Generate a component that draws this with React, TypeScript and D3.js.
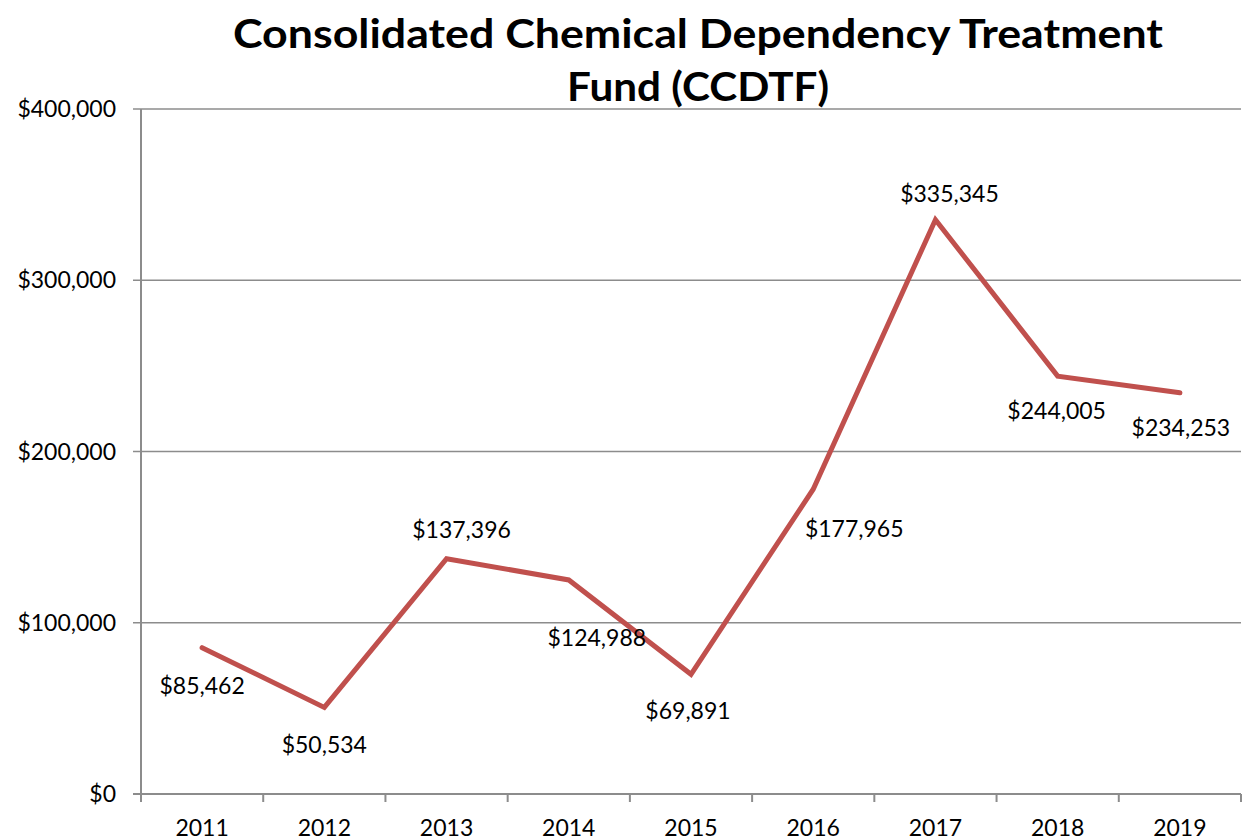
import React from "react";
import * as d3 from "d3";

const years = ["2011", "2012", "2013", "2014", "2015", "2016", "2017", "2018", "2019"];
const values = [85462, 50534, 137396, 124988, 69891, 177965, 335345, 244005, 234253];
const yTicks = [0, 100000, 200000, 300000, 400000];
// label offsets relative to each point (dx, dy), matching the manual placement in the reference
const labelDx = [0, 0, 15, 28, -3, 41, 14, -1, 1];
const labelDy = [38, 37, -29, 58, 37, 40, -26, 35, 35];

const W = 1248;
const H = 840;
const margin = { left: 141, right: 7, top: 109, bottom: 46 };
const FONT = "Lato, 'Open Sans', sans-serif";

export default function App() {
  const x = d3
    .scaleBand<string>()
    .domain(years)
    .range([margin.left, W - margin.right])
    .paddingInner(0)
    .paddingOuter(0);
  const y = d3.scaleLinear().domain([0, 400000]).range([H - margin.bottom, margin.top]);
  const cx = (d: string) => (x(d) as number) + x.bandwidth() / 2;
  const line = d3
    .line<number>()
    .x((_, i) => cx(years[i]))
    .y((d) => y(d));
  const fmt = d3.format("$,");
  const boundaries = years.map((d) => x(d) as number).concat([W - margin.right]);
  const y0 = y(0);

  return (
    <svg
      width={W}
      height={H}
      style={{ position: "absolute", left: 0, top: 0, background: "#fff" }}
      fontFamily={FONT}
    >
      {yTicks.map((t) => (
        <line
          key={"g" + t}
          x1={margin.left - 8}
          x2={W - margin.right}
          y1={y(t)}
          y2={y(t)}
          stroke="#8c8c8c"
          strokeWidth={1.5}
        />
      ))}
      <line x1={margin.left} x2={margin.left} y1={margin.top} y2={y0} stroke="#8c8c8c" strokeWidth={2} />
      {yTicks.map((t) => (
        <text
          key={"yl" + t}
          x={margin.left - 25}
          y={y(t)}
          dy="0.35em"
          textAnchor="end"
          fontSize={23}
          fill="#000"
        >
          {fmt(t)}
        </text>
      ))}
      <line x1={margin.left - 8} x2={W - margin.right} y1={y0} y2={y0} stroke="#8c8c8c" strokeWidth={2} />
      {boundaries.map((b, i) => (
        <line key={"xt" + i} x1={b} x2={b} y1={y0} y2={y0 + 8} stroke="#8c8c8c" strokeWidth={2} />
      ))}
      {years.map((d) => (
        <text key={"xl" + d} x={cx(d)} y={y0 + 42} textAnchor="middle" fontSize={23} fill="#000">
          {d}
        </text>
      ))}
      <path
        d={line(values) || ""}
        fill="none"
        stroke="#C0504D"
        strokeWidth={5}
        strokeLinejoin="miter"
        strokeLinecap="round"
      />
      {values.map((v, i) => (
        <text
          key={"dl" + i}
          x={cx(years[i]) + labelDx[i]}
          y={y(v) + labelDy[i]}
          dy="0.35em"
          textAnchor="middle"
          fontSize={23}
          fill="#000"
        >
          {fmt(v)}
        </text>
      ))}
      <text x={698} y={48} textAnchor="middle" fontSize={40} fontWeight="bold" fill="#000" textLength={930} lengthAdjust="spacingAndGlyphs">
        Consolidated Chemical Dependency Treatment
      </text>
      <text x={698} y={101} textAnchor="middle" fontSize={40} fontWeight="bold" fill="#000" textLength={262} lengthAdjust="spacingAndGlyphs">
        Fund (CCDTF)
      </text>
    </svg>
  );
}
